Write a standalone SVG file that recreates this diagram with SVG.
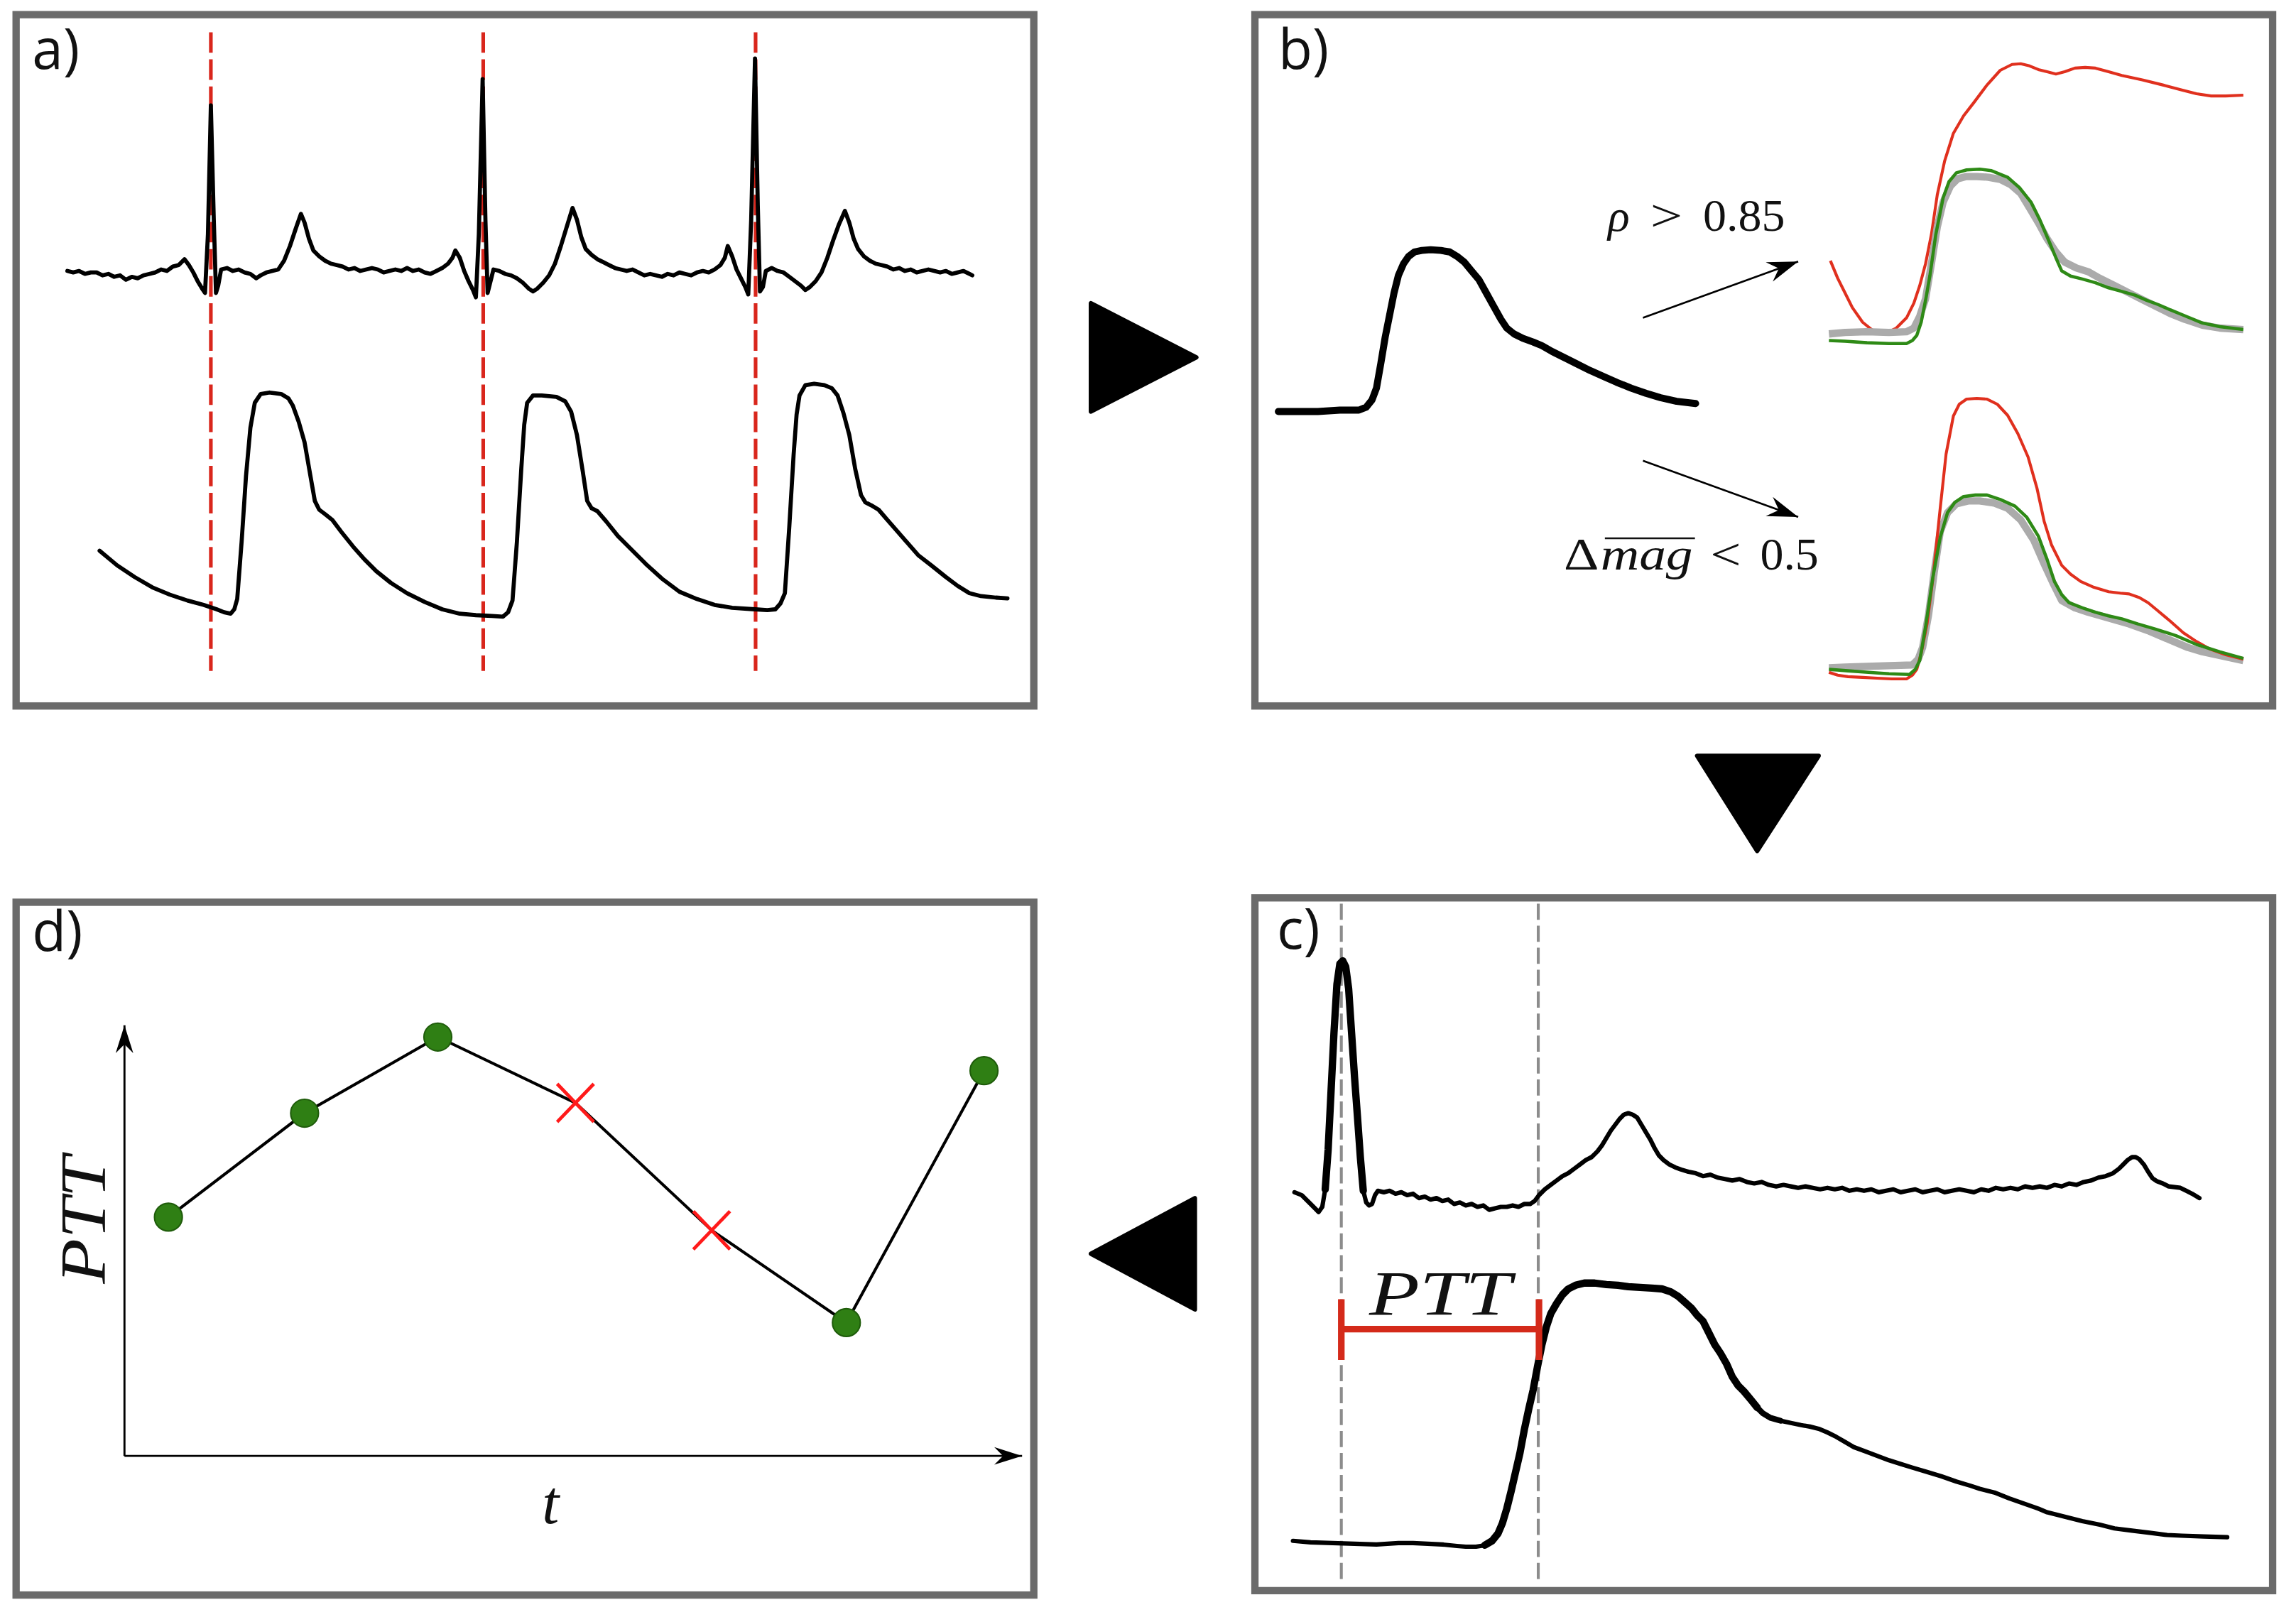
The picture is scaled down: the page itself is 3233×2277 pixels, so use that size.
<svg xmlns="http://www.w3.org/2000/svg" width="3233" height="2277" viewBox="0 0 3233 2277">
<style>
.box{fill:#fff;stroke:#6b6b6b;stroke-width:5}
.lbl{font-family:'Open Sans','DejaVu Sans',sans-serif;font-size:38px;fill:#111}
.tr{fill:none;stroke:#000;stroke-linejoin:round;stroke-linecap:round}
.math{font-family:'Liberation Serif','Times New Roman',serif;fill:#111}
.reddash{stroke:#d9261c;stroke-width:2.5;stroke-dasharray:14 4.5;fill:none}
.graydash{stroke:#8c8c8c;stroke-width:2;stroke-dasharray:11 4;fill:none}
.red{fill:none;stroke:#e0301e;stroke-width:2;stroke-linejoin:round}
.grn{fill:none;stroke:#2e8a16;stroke-width:2.2;stroke-linejoin:round}
.gry{fill:none;stroke:#ababab;stroke-width:5;stroke-linejoin:round}
.dot{fill:#2f7f14;stroke:#1f5c0b;stroke-width:1}
.cross{stroke:#ff1a1a;stroke-width:2.3;fill:none}
.tri{fill:#000;stroke:#000;stroke-width:3;stroke-linejoin:round}
</style>
<defs>
<marker id="stealthB" viewBox="-24 -9 26 18" markerWidth="26" markerHeight="18" refX="0" refY="0" orient="auto" markerUnits="userSpaceOnUse">
<path d="M0,0 L-21,-7 L-14,0 L-21,7 Z" fill="#000"/>
</marker>
<marker id="stealthD" viewBox="-22 -8 24 16" markerWidth="24" markerHeight="16" refX="0" refY="0" orient="auto" markerUnits="userSpaceOnUse">
<path d="M0,0 L-19,-6 L-13,0 L-19,6 Z" fill="#000"/>
</marker>
</defs>
<rect width="3233" height="2277" fill="#fff"/>
<g transform="matrix(2.0619 0 0 2.0625 0 0)">

<g id="panel-a">
<rect class="box" x="11" y="10" width="695" height="472"/>
<text class="lbl" x="22" y="47">a)</text>
<line class="reddash" x1="144" y1="22" x2="144" y2="458"/>
<line class="reddash" x1="330" y1="22" x2="330" y2="458"/>
<line class="reddash" x1="516" y1="22" x2="516" y2="458"/>
<polyline class="tr" stroke-width="2.8" points="46,185 50,186 54,185 58,187 62,186 66,186 70,188 74,187 78,189 82,188 86,191 90,189 94,190 98,188 102,187 106,186 110,184 114,185 118,182 122,181 126,177 129,181 132,186 135,192 138,197 140,200 142,160 144,72 146,150 147.5,200 149,195 151,184 155,183 159,185 163,184 167,186 171,187 175,190 178,188 182,186 186,185 190,184 194,178 198,168 202,156 205.5,146 208,152 211,163 214,171 218,175 222,178 226,180 230,181 234,182 238,184 242,183 246,185 250,184 254,183 258,184 262,186 266,185 270,184 274,185 278,183 282,185 286,184 290,186 294,187 298,185 302,183 306,180 309,176 311,171 314,176 317,185 320,192 323,198 325,203 327,160 329.6,54 331.5,150 333,200 335,192 337,184 341,185 345,187 349,188 353,190 357,193 361,197 364,199 367,197 371,193 375,188 379,180 383,168 387,155 391,142 394,150 397,162 400,170 404,174 408,177 412,179 416,181 420,183 424,184 428,185 432,184 436,186 440,188 444,187 448,188 452,189 456,187 460,188 464,186 468,187 472,188 476,186 480,185 484,186 488,184 492,181 495,176 497,168 500,175 503,184 506,190 509,196 511,201 513,150 515.6,40 517.5,140 519,199 521,196 523,185 527,183 531,185 535,186 539,189 543,192 547,195 550,198 553,196 557,192 561,186 565,176 569,164 573,153 577,144 580,152 583,163 586,170 590,175 594,178 598,180 602,181 606,182 610,184 614,183 618,185 622,184 626,186 630,185 634,184 638,185 642,186 646,185 650,187 654,186 658,185 662,187 664,188"/>
<polyline class="tr" stroke-width="2.8" points="68,376 80,386 92,394 104,401 116,406 128,410 139,413 148,416 153,418 157.5,419 160,416 162,409 165,370 168,325 171,292 174,275 178,269 184,268 192,269 197,272 200,277 204,288 208,302 212,325 215,342 218,348 222,351 227,355 233,363 241,373 249,382 257,390 267,398 278,405 290,411 302,416 314,419 325,420 336,420.5 343.5,421 347,418 350,410 353,370 356,320 358,290 360,275 364,270 370,270 380,271 386,274 390,281 394,297 398,322 401,342 404,347 408,349 414,356 422,366 432,376 441,385 452,395 464,404 476,409 488,413 500,415 515.6,416 524,416.5 529.5,416 533,412 536,405 539,360 542,310 544,283 546,270 550,263 556,262 563,263 568,265 572,270 576,282 580,297 584,320 588,338 591,343 595,345 600,348 606,355 613,363 620,371 627,379 636,386 646,394 654,400 662,405 670,407 680,408 688,408.5"/>
</g>

<g id="panel-b">
<rect class="box" x="857" y="10" width="695" height="472"/>
<text class="lbl" x="873" y="47">b)</text>
<polyline class="tr" stroke-width="4.8" points="873,281 885,281 900,281 915,280 928,280 933,278 937,273 940,265 943,248 946,230 949,215 952,200 955,188 958.5,180 962,175 966,172 971,171 977,170.5 984,171 990,172 995,175 1000,179 1005,185 1010,191 1015,200 1020,209 1025,218 1029,224 1034,228 1040,231 1047,233.5 1053,236 1060,240 1068,244 1076,248 1086,253 1096,257.5 1104,261 1114,265 1124,268.5 1134,271.5 1145,274 1158,275.5"/>
<g id="label-rho">
<text class="math" x="1098" y="157.5" font-size="31" font-style="italic">ρ</text>
<text class="math" x="1127" y="157.5" font-size="31" textLength="22" lengthAdjust="spacingAndGlyphs">&gt;</text>
<text class="math" x="1163" y="157.5" font-size="31" textLength="56" lengthAdjust="spacingAndGlyphs">0.85</text>
</g>
<g id="label-mag">
<text class="math" x="1068" y="389" font-size="31" textLength="24" lengthAdjust="spacingAndGlyphs">Δ</text>
<text class="math" x="1093" y="389" font-size="31" font-style="italic" textLength="63" lengthAdjust="spacingAndGlyphs">mag</text>
<text class="math" x="1168" y="389" font-size="31" textLength="21" lengthAdjust="spacingAndGlyphs">&lt;</text>
<text class="math" x="1202" y="389" font-size="31" textLength="40" lengthAdjust="spacingAndGlyphs">0.5</text>
<line x1="1096" y1="367.5" x2="1157.5" y2="367.5" stroke="#111" stroke-width="1.3"/>
</g>
<g id="b-top">
<polyline class="red" points="1250,178 1255,190 1260,200 1265,210 1272,220 1280,226.5 1288,227.5 1295,224 1302,217 1307,207 1311,195 1315,180 1319,160 1323,133 1328,110 1334,91 1341,79 1348,70 1357,58 1366,48 1374,44 1380,43.5 1386,45 1392,47.5 1398,49 1404,50.5 1410,49 1417,46.5 1424,46 1431,46.5 1440,49 1449,51.5 1463,54.5 1477,58 1490,61.5 1500,64 1510,65.5 1520,65.5 1532,65"/>
<polyline class="gry" points="1249,228 1260,227 1275,226.5 1290,227 1302,226.5 1307,224 1311,216 1315,204 1319,180 1323,155 1327,138 1332,127 1337,122 1343,120.5 1350,120.5 1358,121 1366,122.5 1373,126 1380,132 1386,142 1392,152 1398,163 1404,172 1410,179 1418,183 1426,185.5 1434,190 1444,195 1454,200 1464,205 1474,210 1482,214 1492,218 1504,222 1516,224 1532,225"/>
<polyline class="grn" points="1249,232.5 1260,233 1275,234 1290,234.5 1302,234.5 1306,232.5 1309,229 1312,220 1315,205 1318,188 1322,160 1327,135 1331,124 1336,118 1343,116 1352,115.5 1360,116.5 1371,121 1379,128 1387,138 1393,150 1399,164 1404,176 1408,185 1414,188.5 1422,190.5 1431,193 1440,196.5 1449,199 1458,201.5 1466,205 1474,208 1482,211.5 1493,216 1504,220.5 1516,223 1532,225"/>
</g>
<g id="b-bottom">
<polyline class="gry" points="1249,456 1260,455.5 1275,455 1290,454.5 1306,454 1310,450 1313,442 1317,420 1321,390 1325,363 1330,350 1336,344 1344,342 1352,342 1362,343.5 1371,347 1380,355 1389,369 1396,385 1402,398 1408,410 1417,415 1426,418 1440,422 1454,426 1468,431 1482,437 1494,442 1504,445 1518,448 1532,451"/>
<polyline class="red" stroke-width="2.4" points="1249,459 1255,461 1262,462 1272,462.5 1282,463 1292,463.5 1302,463.5 1306,461 1309,457 1312,446 1316,426 1320,395 1325,347 1329,310 1334,284 1338,276 1343,272.5 1350,272 1357,272.5 1364,276 1371,283.5 1378,296 1385,312 1391,333 1396,356 1401,372 1408,386 1414,392 1421,397 1430,401 1440,404 1448,405 1454,405.5 1461,408 1467,411.5 1473,416.5 1482,424 1491,432 1500,438 1509,443 1520,447 1532,450"/>
<polyline class="grn" points="1249,457 1262,458 1276,459 1290,460 1304,460.5 1308,457 1311,451 1315,428 1320,394 1325,367 1330,350 1335,343 1341,339 1349,338 1357,338 1366,341 1376,345.5 1384,353 1392,366 1398,382 1403,397 1408,406 1413,411.5 1422,415 1431,418 1440,420.5 1449,422.5 1460,426 1472,429.5 1486,434 1500,440 1516,445 1532,449.5"/>
</g>
</g>

<g id="panel-c">
<rect class="box" x="857" y="613" width="695" height="473"/>
<text class="lbl" x="872" y="648">c)</text>
<line class="graydash" x1="916" y1="617" x2="916" y2="1079"/>
<line class="graydash" x1="1050.5" y1="617" x2="1050.5" y2="1079"/>
<polyline class="tr" stroke-width="3" points="884,814 889,816 894,821 898,825 900.5,827.5 903,824 905,812 907,785 909,745 911,705 913,672 915,658 917,656 919,660 921,675 923,705 925,735 927,762 929,790 931,813 933,821 935,823 937,822 939,816 941,813 945,814 949,813 953,815 957,814 961,816 965,815 969,818 973,817 977,819 981,818 985,820 989,819 993,822 997,821 1001,823 1005,822 1009,824 1013,823 1017,826 1021,825 1025,824 1029,824 1033,823 1037,824 1041,822 1045,822 1048,820 1051,816 1055,812 1059,809 1063,806 1067,803 1071,801 1075,798 1079,795 1083,792 1087,790 1091,786 1094,782 1097,777 1100,772 1103,768 1106,764 1109,761 1112,760 1115,761 1118,763 1121,768 1124,773 1127,778 1130,784 1133,789 1136,792 1140,795 1144,797 1148,798.5 1153,800 1158,801 1163,803 1168,802 1173,804 1178,805 1183,806 1188,805 1193,807 1198,808 1203,807 1208,809 1213,810 1218,809 1223,810 1228,811 1233,810 1238,811 1243,812 1248,811 1253,812 1258,811 1263,813 1268,812 1273,813 1278,812 1283,814 1288,813 1293,812 1298,814 1303,813 1308,812 1313,814 1318,813 1323,812 1328,814 1333,813 1338,812 1343,813 1348,814 1353,812 1358,813 1363,811 1368,812 1373,811 1378,812 1383,810 1388,811 1393,810 1398,811 1403,809 1408,810 1413,808 1418,809 1423,807 1428,806 1433,804 1438,803 1443,801 1447,798 1450,795 1453,792 1456,790 1458.5,790 1461,791.5 1464,795 1467,800 1470,804.5 1473,806.5 1477,808 1481,810 1485,810.5 1489,811 1493,813 1497,815 1502,818"/>
<polyline class="tr" stroke-width="5" points="905,812 907,785 909,745 911,705 913,672 915,658 917,656 919,660 921,675 923,705 925,735 927,762 929,790 931,813"/>
<polyline class="tr" stroke-width="2" points="1085,791 1091,786 1094,782 1097,777 1100,772 1103,768 1106,764 1109,761 1112,760 1115,761 1118,763 1121,768 1124,773 1127,778"/>
<polyline class="tr" stroke-width="3" points="883,1052 895,1053 910,1053.5 925,1054 940,1054.5 955,1053.5 965,1053.5 975,1054 985,1054.5 995,1055.5 1001,1056 1008,1056 1014,1055 1019,1052 1023,1047 1026,1040 1029,1030 1032,1018 1035,1005 1038,992 1041,976 1044,962 1047,949 1050,933 1053,918 1056,906 1059,897 1063,890 1067,884 1071,880 1076,877.5 1082,876 1089,876 1097,877 1105,877.5 1112,878.5 1120,879 1128,879.5 1135,880 1141,882 1146,885 1150,888.5 1155,893 1159,898 1163,902 1167,910 1171,918 1175,924 1179,931 1183,940 1187,946 1191,950 1196,956 1200,961 1204,965 1209,968 1216,970 1223,971.5 1230,973 1236,974 1242,975.5 1248,978 1254,981 1260,984.5 1266,988 1274,991 1282,994 1290,997 1298,999.5 1306,1002 1316,1005 1326,1008 1336,1011.5 1346,1014.5 1352,1016.5 1362,1019 1372,1023 1382,1026.5 1392,1030 1398,1032.5 1410,1035.5 1422,1038.5 1434,1041 1444,1043.5 1456,1045 1468,1046.5 1480,1048 1490,1048.5 1505,1049 1521,1049.5"/>
<polyline class="tr" stroke-width="5" points="1014,1055 1019,1052 1023,1047 1026,1040 1029,1030 1032,1018 1035,1005 1038,992 1041,976 1044,962 1047,949 1050,933 1053,918 1056,906 1059,897 1063,890 1067,884 1071,880 1076,877.5 1082,876 1089,876 1097,877 1105,877.5 1112,878.5 1120,879 1128,879.5 1135,880 1141,882 1146,885 1150,888.5 1155,893 1159,898 1163,902 1167,910 1171,918 1175,924 1179,931 1183,940 1187,946 1191,950 1196,956 1200,961"/>
<polyline class="tr" stroke-width="4" points="1196,956 1200,961 1204,965 1209,968 1216,970"/>
<g id="ptt-bracket" stroke="#d42a1a" stroke-width="4.5" fill="none">
<line x1="916" y1="907.5" x2="1051" y2="907.5"/>
<line x1="916" y1="887" x2="916" y2="928.5"/>
<line x1="1051" y1="887" x2="1051" y2="928.5"/>
</g>
<text class="math" x="935" y="897.5" font-size="43" font-style="italic" textLength="97" lengthAdjust="spacingAndGlyphs">PTT</text>
</g>

<g id="panel-d">
<rect class="box" x="11" y="616" width="695" height="473"/>
<text class="lbl" x="22" y="649">d)</text>
<line x1="85" y1="994" x2="85" y2="700" stroke="#000" stroke-width="1.4" marker-end="url(#stealthD)"/>
<line x1="85" y1="994" x2="698" y2="994" stroke="#000" stroke-width="1.4" marker-end="url(#stealthD)"/>
<polyline fill="none" stroke="#000" stroke-width="2" points="115,831 208,760 299,708 393,753 486,840 578,903 672,731"/>
<circle class="dot" cx="115" cy="831" r="9.5"/>
<circle class="dot" cx="208" cy="760" r="9.5"/>
<circle class="dot" cx="299" cy="708" r="9.5"/>
<circle class="dot" cx="578" cy="903" r="9.5"/>
<circle class="dot" cx="672" cy="731" r="9.5"/>
<path class="cross" d="M380.5,740 L405.5,766 M380.5,766 L405.5,740"/>
<path class="cross" d="M473.5,827 L498.5,853 M473.5,853 L498.5,827"/>
<text class="math" transform="translate(72,833) rotate(-90)" x="0" y="0" font-size="44" font-style="italic" text-anchor="middle" textLength="87" lengthAdjust="spacingAndGlyphs">PTT</text>
<text class="math" x="376" y="1040" font-size="42" font-style="italic" text-anchor="middle">t</text>
</g>

<g id="connectors">
<polygon class="tri" points="745,207 745,281 817,244"/>
<polygon class="tri" points="1159,516 1242,516 1200,581"/>
<polygon class="tri" points="816,818 816,894 745,856"/>
<line x1="1122" y1="217" x2="1228" y2="178.5" stroke="#000" stroke-width="1.3" marker-end="url(#stealthB)"/>
<line x1="1122" y1="314.5" x2="1228" y2="353" stroke="#000" stroke-width="1.3" marker-end="url(#stealthB)"/>
</g>

</g>
</svg>
